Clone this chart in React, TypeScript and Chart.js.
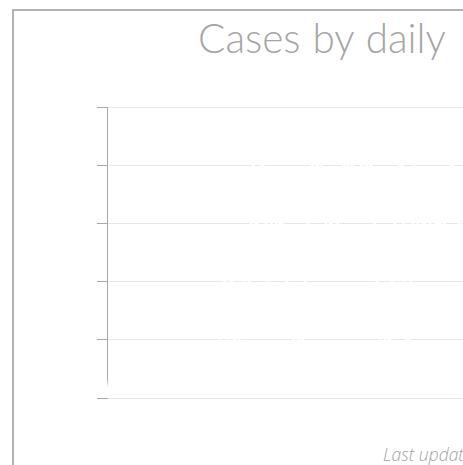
import React, { useEffect, useRef } from "react";
import { Chart, registerables } from "chart.js";

Chart.register(...registerables);

const titleStart = "Cases by daily";
const titleEnd = "report date";
const footerText = "Last updated: June 30, 2020";

const dates = [
  "3/1", "3/2", "3/3", "3/4", "3/5", "3/6", "3/7", "3/8", "3/9", "3/10",
  "3/11", "3/12", "3/13", "3/14", "3/15", "3/16", "3/17", "3/18", "3/19", "3/20",
  "3/21", "3/22", "3/23", "3/24", "3/25", "3/26", "3/27", "3/28", "3/29", "3/30", "3/31",
  "4/1", "4/2", "4/3", "4/4", "4/5", "4/6", "4/7", "4/8", "4/9", "4/10",
  "4/11", "4/12", "4/13", "4/14", "4/15", "4/16", "4/17", "4/18", "4/19", "4/20",
  "4/21", "4/22", "4/23", "4/24", "4/25", "4/26", "4/27", "4/28", "4/29", "4/30",
  "5/1", "5/2", "5/3", "5/4", "5/5", "5/6", "5/7", "5/8", "5/9", "5/10",
  "5/11", "5/12", "5/13", "5/14", "5/15", "5/16", "5/17", "5/18", "5/19", "5/20",
  "5/21", "5/22", "5/23", "5/24", "5/25", "5/26", "5/27", "5/28", "5/29", "5/30", "5/31",
  "6/1", "6/2", "6/3", "6/4", "6/5", "6/6", "6/7", "6/8", "6/9", "6/10",
  "6/11", "6/12", "6/13", "6/14", "6/15", "6/16", "6/17", "6/18", "6/19", "6/20",
  "6/21", "6/22", "6/23", "6/24", "6/25", "6/26", "6/27", "6/28", "6/29",
];

const dailyCases = [
  0, 45, 10, 20, 12, 18, 10, 25, 15, 20,
  12, 10, 0, 0, 0, 0, 0, 10, 0, 0,
  0, 0, 0, 15, 20, 10, 25, 15, 0, 0,
  0, 0, 15, 30, 50, 40, 80, 150, 210, 100,
  220, 100, 90, 110, 200, 105, 220, 410, 290, 350,
  415, 320, 200, 310, 360, 250, 320, 260, 190, 130,
  100, 95, 105, 100, 230, 350, 400, 405, 395, 400,
  340, 250, 310, 220, 280, 360, 400, 395, 405, 400,
  350, 380, 400, 405, 395, 400, 320, 180, 100, 90,
  110, 100, 240, 340, 400, 410, 110, 90, 250, 400,
  300, 260, 330, 220, 300, 360, 270, 320, 240, 350,
  380, 405, 390, 330, 260, 310, 210, 280, 320, 290,
  300,
];

const yTicks = [0, 100, 200, 300, 400, 500];

export default function App() {
  const canvasRef = useRef<HTMLCanvasElement | null>(null);

  useEffect(() => {
    const canvas = canvasRef.current;
    if (!canvas) return;
    const chart = new Chart(canvas, {
      type: "line",
      data: {
        labels: dates,
        datasets: [
          {
            label: "Daily cases",
            data: dailyCases,
            borderColor: "#ffffff",
            backgroundColor: "#ffffff",
            borderWidth: 2.5,
            pointRadius: 0,
            tension: 0,
            fill: false,
          },
        ],
      },
      options: {
        animation: false,
        responsive: false,
        maintainAspectRatio: false,
        layout: { padding: { left: 7, top: 7, right: 0, bottom: 7 } },
        plugins: {
          legend: { display: false },
          tooltip: { enabled: false },
          title: { display: false },
        },
        scales: {
          x: { display: false },
          y: {
            min: yTicks[0],
            max: yTicks[yTicks.length - 1],
            ticks: { stepSize: 100, display: false },
            grid: {
              color: "#e8e8e8",
              tickColor: "#a8a8a8",
              tickLength: 10,
              drawTicks: true,
              lineWidth: 1,
            },
            border: { display: true, color: "#a8a8a8", width: 1 },
          },
        },
      },
    });
    return () => chart.destroy();
  }, []);

  return (
    <div style={{ position: "fixed", left: 0, top: 0, right: 0, bottom: 0, overflow: "hidden", background: "#ffffff" }}>
      <div
        style={{
          position: "absolute",
          left: 12,
          top: 9,
          width: 1000,
          height: 1000,
          border: "2px solid #b3b3b3",
          boxSizing: "border-box",
        }}
      />
      <div
        style={{
          position: "absolute",
          left: 198,
          top: 13,
          whiteSpace: "nowrap",
          fontFamily: "Lato, 'Open Sans', sans-serif",
          fontWeight: 300,
          fontSize: 40.5,
          wordSpacing: 1,
          color: "#a6a6a6",
        }}
      >
        <span>{titleStart}</span>
        <span style={{ marginLeft: 24 }}>{titleEnd}</span>
      </div>
      <canvas
        ref={canvasRef}
        width={390}
        height={305}
        style={{ position: "absolute", left: 90, top: 100, width: 390, height: 305 }}
      />
      <div
        style={{
          position: "absolute",
          left: 383,
          top: 442,
          whiteSpace: "nowrap",
          fontFamily: "'Open Sans', Lato, sans-serif",
          fontStyle: "italic",
          fontWeight: 300,
          fontSize: 17.5,
          color: "#a3a3a3",
        }}
      >
        {footerText}
      </div>
    </div>
  );
}
